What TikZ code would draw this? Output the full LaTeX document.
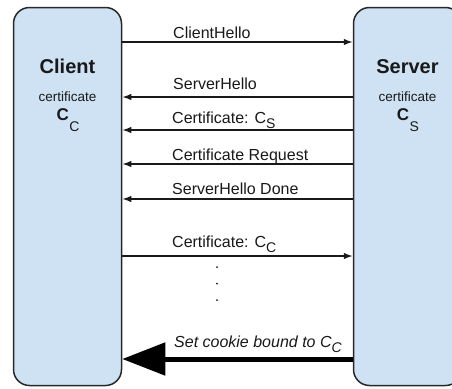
\documentclass[tikz,border=0pt]{standalone}
\usepackage{fontspec}
\setmainfont{Liberation Sans}
\usetikzlibrary{arrows.meta}
\definecolor{boxfill}{RGB}{207,226,243}
\definecolor{boxline}{RGB}{40,40,40}
\definecolor{ink}{RGB}{25,25,25}
\newcommand\subtxt[2]{\raisebox{-#1}{\fontsize{14}{14}\selectfont #2}}
\begin{document}
\begin{tikzpicture}[x=1pt,y=-1pt,
  party/.style={draw=boxline, fill=boxfill, line width=1.5pt, rounded corners=16pt,
    minimum width=108pt, minimum height=378pt, inner sep=0pt},
  msg/.style={draw=ink, line width=1.4pt, -{Latex[length=9pt,width=6.5pt]}},
  bigmsg/.style={draw=black, line width=5pt, -{Triangle[length=43pt,width=32pt]}},
  lbl/.style={anchor=base west, inner sep=0pt, text=ink, font=\fontsize{16}{19}\selectfont},
  title/.style={anchor=base, inner sep=0pt, text=ink, font=\fontsize{20}{24}\selectfont\bfseries},
  smalltxt/.style={anchor=base, inner sep=0pt, text=ink, font=\fontsize{13.5}{16}\selectfont},
  keytxt/.style={anchor=base, inner sep=0pt, text=ink, font=\fontsize{15}{18}\selectfont},
  dot/.style={circle, fill=ink, inner sep=0pt, minimum size=2pt}
]
\useasboundingbox (0,0) rectangle (452,388);
\clip (0,0) rectangle (452,388);
\fill[white] (0,0) rectangle (452,388);

\node[party] (client) at (67.5,196.5) {};
\node[party] (server) at (407.5,196.5) {};

\node[title] (cname) at (67.5,73) {Client};
\node[smalltxt] (ccert) at (67.5,101) {certificate};
\node[keytxt] (ckey) at (68,120) {{\fontsize{17}{18}\selectfont\bfseries C}\kern0.5pt\subtxt{11pt}{C}};

\node[title] (sname) at (407.5,73) {Server};
\node[smalltxt] (scert) at (407.5,101) {certificate};
\node[keytxt] (skey) at (408,120) {{\fontsize{17}{18}\selectfont\bfseries C}\kern0.5pt\subtxt{11pt}{S}};

\draw[msg] (client.east |- 0,42) -- (server.west |- 0,42);
\node[lbl] (m1) at (173,38) {ClientHello};

\draw[msg] (server.west |- 0,97) -- (client.east |- 0,97);
\node[lbl] (m2) at (173,89) {ServerHello};

\draw[msg] (server.west |- 0,130) -- (client.east |- 0,130);
\node[lbl] (m3) at (172,123) {Certificate: C\subtxt{5pt}{S}};

\draw[msg] (server.west |- 0,164) -- (client.east |- 0,164);
\node[lbl] (m4) at (172,160) {Certificate Request};

\draw[msg] (server.west |- 0,199) -- (client.east |- 0,199);
\node[lbl] (m5) at (172,194) {ServerHello Done};

\draw[msg] (client.east |- 0,256) -- (server.west |- 0,256);
\node[lbl] (m6) at (172,247) {Certificate: C\subtxt{5pt}{C}};

\node[dot] (d1) at (217,267) {};
\node[dot] (d2) at (217,283.5) {};
\node[dot] (d3) at (217,300) {};

\draw[bigmsg] (server.west |- 0,359) -- (client.east |- 0,359);
\node[lbl] (m7) at (174,347) {\itshape Set cookie bound to C\subtxt{5pt}{\itshape C}};
\end{tikzpicture}
\end{document}
